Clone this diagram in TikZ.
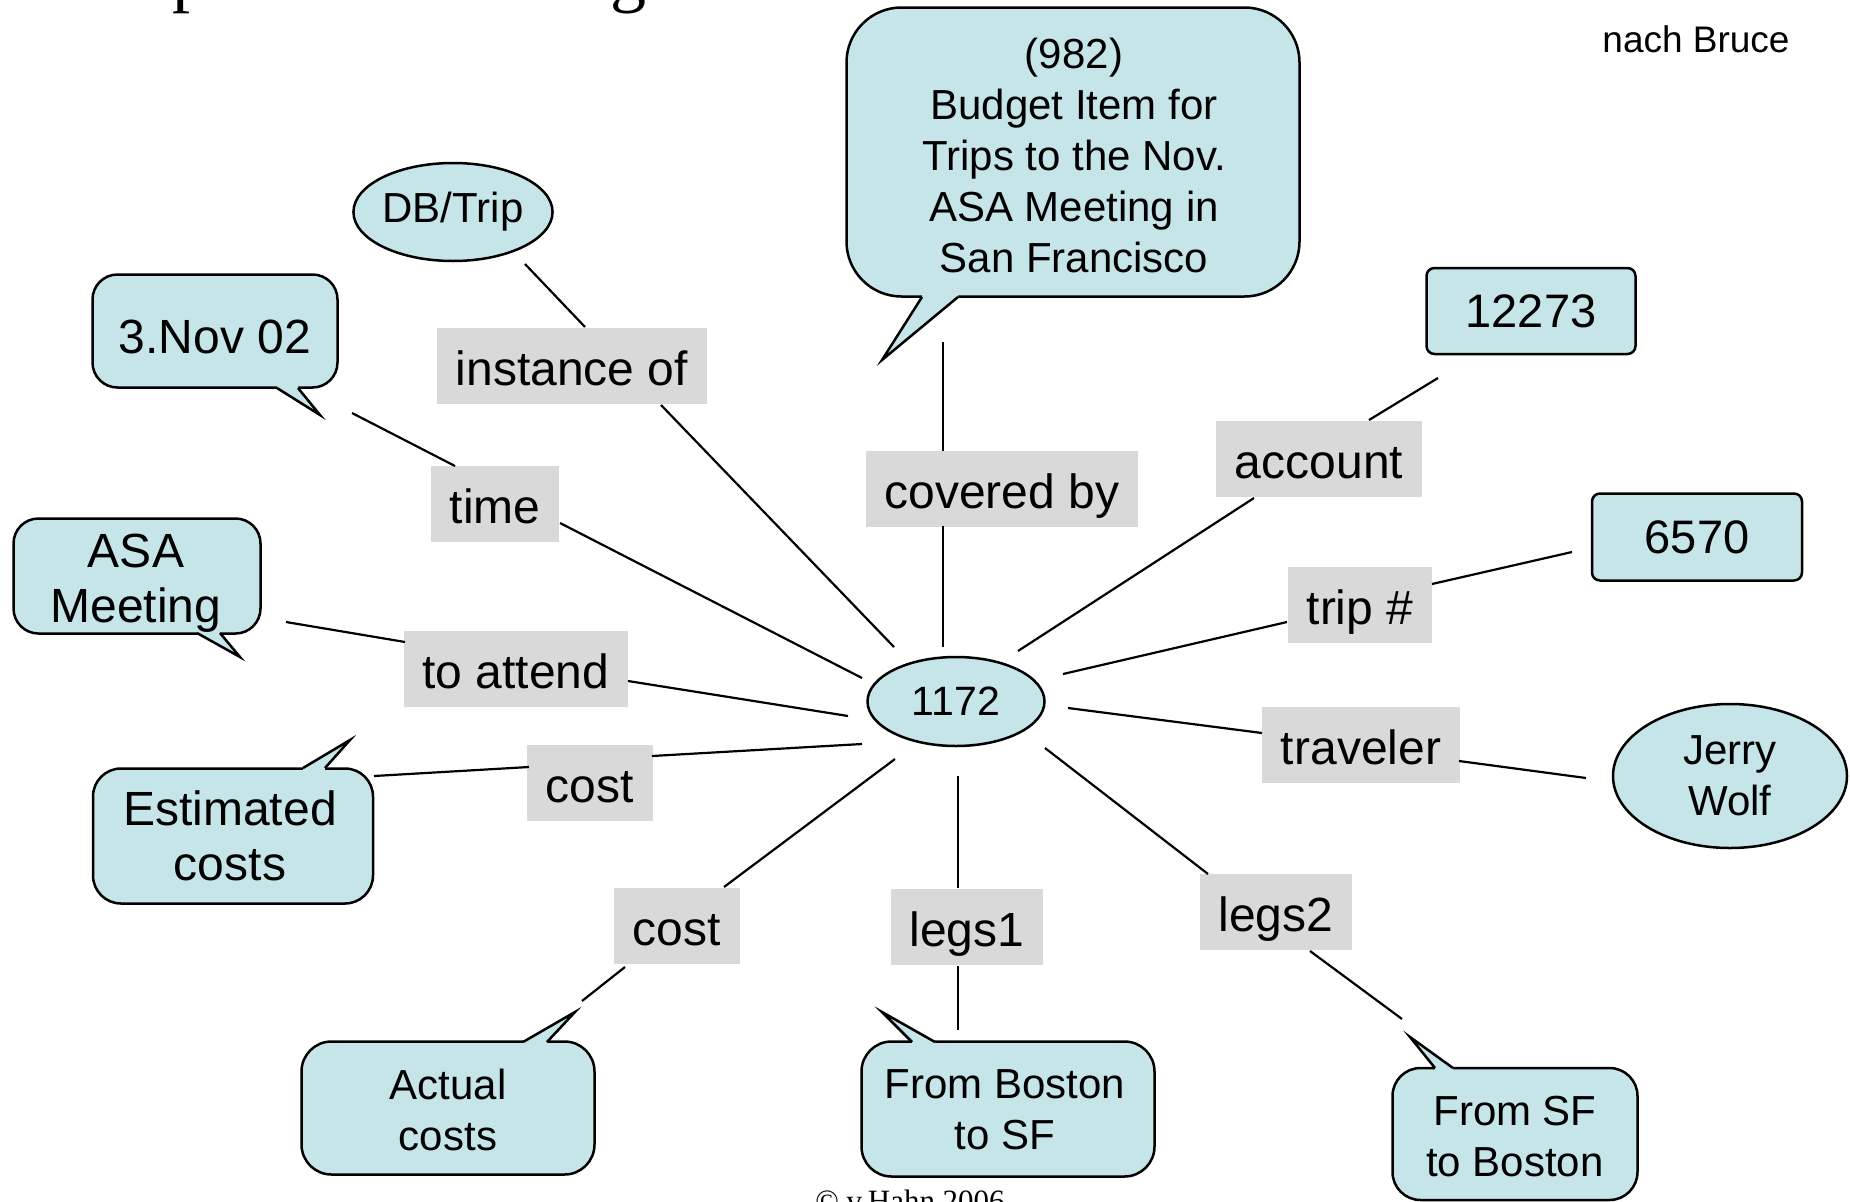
\documentclass[tikz,border=0pt]{standalone}
\usepackage{fontspec}
\setmainfont{Liberation Sans}
\newfontfamily\timesfont{Liberation Serif}
\usetikzlibrary{shapes.geometric}

\definecolor{bubblefill}{RGB}{198,229,232}
\definecolor{relgray}{RGB}{217,217,217}

\tikzset{
  outline/.style={draw=black, line width=2.5pt},
  bubble/.style={outline, fill=bubblefill, rectangle, inner sep=0pt},
  oval/.style={outline, fill=bubblefill, ellipse, inner sep=0pt},
  relbox/.style={fill=relgray, inner xsep=19pt, inner ysep=19pt,
    text height=38pt, text depth=0pt, font=\fontsize{48}{55}\selectfont},
  link/.style={draw=black, line width=2.2pt},
  bigtext/.style={font=\fontsize{48}{55}\selectfont, align=center, inner sep=0pt},
  midtext/.style={font=\fontsize{42}{51}\selectfont, align=center, inner sep=0pt},
}

\begin{document}
\begin{tikzpicture}[x=1pt,y=-1pt]
\useasboundingbox (0,0) rectangle (1850,1202);
\clip (0,0) rectangle (1850,1202);

% heading, only its descenders reach into the frame
\node[anchor=base west, inner sep=0pt, font=\timesfont\fontsize{72}{72}\selectfont] (headp) at (172,-2) {p};
\node[anchor=base west, inner sep=0pt, font=\timesfont\fontsize{72}{72}\selectfont] (headg) at (610,-2) {g};

\node[font=\fontsize{37}{40}\selectfont, inner sep=0pt] (source) at (1696,39) {nach Bruce};

% central concept
\node[oval, minimum width=177pt, minimum height=89pt, font=\fontsize{41}{48}\selectfont] (trip) at (956,701.5) {1172};

% plain concept nodes
\node[oval, minimum width=196pt, minimum height=98pt, midtext] (dbtrip) at (453,212) {DB/Trip};
\node[oval, minimum width=234pt, minimum height=144pt, midtext] (jerry) at (1730,776) {Jerry\\Wolf};
\node[bubble, rounded corners=8pt, minimum width=209pt, minimum height=86pt, font=\fontsize{47}{54}\selectfont] (acctno) at (1531,311) {12273};
\node[bubble, rounded corners=8pt, minimum width=210pt, minimum height=87pt, font=\fontsize{47}{54}\selectfont] (tripnum) at (1697,537) {6570};

% speech bubbles: body, tail, then text
\node[bubble, rounded corners=55pt, minimum width=453pt, minimum height=289pt] (budget) at (1073,152) {};
\fill[bubblefill] (922,297) -- (882,360) -- (958,297) -- ++(0,-6) -- (922,291) -- cycle;
\draw[outline] (922,297) -- (882,360) -- (958,297);
\node[midtext] (budgettxt) at (1074,155) {(982)\\Budget Item for\\Trips to the Nov.\\ASA Meeting in\\San Francisco};

\node[bubble, rounded corners=25pt, minimum width=245pt, minimum height=113pt] (date) at (215,331) {};
\fill[bubblefill] (277,388) -- (320,415) -- (298,388) -- ++(0,-6) -- (277,382) -- cycle;
\draw[outline] (277,388) -- (320,415) -- (298,388);
\node[bigtext] (datetxt) at (215,337) {3.Nov 02};

\node[bubble, rounded corners=25pt, minimum width=247pt, minimum height=115pt] (asa) at (137,576) {};
\fill[bubblefill] (197,633) -- (240,657) -- (220,633) -- ++(0,-6) -- (197,627) -- cycle;
\draw[outline] (197,633) -- (240,657) -- (220,633);
\node[bigtext] (asatxt) at (136,583) {ASA\\Meeting};

\node[bubble, rounded corners=28pt, minimum width=280pt, minimum height=135pt] (est) at (233,836) {};
\fill[bubblefill] (303,768) -- (350,740) -- (325,768) -- ++(0,6) -- (303,774) -- cycle;
\draw[outline] (303,768) -- (350,740) -- (325,768);
\node[bigtext] (esttxt) at (230,836) {Estimated\\costs};

\node[bubble, rounded corners=30pt, minimum width=293pt, minimum height=133pt] (actual) at (448,1108) {};
\fill[bubblefill] (523,1042) -- (575,1012) -- (547,1042) -- ++(0,6) -- (523,1048) -- cycle;
\draw[outline] (523,1042) -- (575,1012) -- (547,1042);
\node[midtext] (actualtxt) at (448,1110) {Actual\\costs};

\node[bubble, rounded corners=30pt, minimum width=293pt, minimum height=135pt] (legone) at (1008,1109) {};
\fill[bubblefill] (912,1042) -- (882,1012) -- (935,1042) -- ++(0,6) -- (912,1048) -- cycle;
\draw[outline] (912,1042) -- (882,1012) -- (935,1042);
\node[midtext] (legonetxt) at (1005,1110) {From Boston\\to SF};

\node[bubble, rounded corners=28pt, minimum width=245pt, minimum height=132pt] (legtwo) at (1515,1134) {};
\fill[bubblefill] (1435,1068) -- (1410,1037) -- (1453,1068) -- ++(0,6) -- (1435,1074) -- cycle;
\draw[outline] (1435,1068) -- (1410,1037) -- (1453,1068);
\node[midtext] (legtwotxt) at (1515,1137) {From SF\\to Boston};

% relation labels
\node[relbox] (inst)   at (572,366)  {instance of};
\node[relbox] (time)   at (495,504)  {time};
\node[relbox] (attend) at (516,669)  {to attend};
\node[relbox] (costa)  at (590,783)  {cost};
\node[relbox] (costb)  at (677,926)  {cost};
\node[relbox] (legsa)  at (967,927)  {legs1};
\node[relbox] (legsb)  at (1276,912) {legs2};
\node[relbox] (trav)   at (1361,745) {traveler};
\node[relbox] (tripno) at (1360,605) {trip \#};
\node[relbox] (acct)   at (1319,459) {account};
\node[relbox] (covby)  at (1002,489) {covered by};

% end points of the relation arcs
\coordinate (inst-o) at (525,264);  \coordinate (inst-i) at (585,327);
\coordinate (inst-j) at (661,405);  \coordinate (inst-c) at (894,647);
\coordinate (time-o) at (352,413);  \coordinate (time-i) at (455,466);
\coordinate (time-j) at (560,523);  \coordinate (time-c) at (862,678);
\coordinate (att-o) at (286,622);   \coordinate (att-i) at (405,642);
\coordinate (att-j) at (628,681);   \coordinate (att-c) at (848,716);
\coordinate (costa-o) at (374,776); \coordinate (costa-i) at (529,767);
\coordinate (costa-j) at (652,756); \coordinate (costa-c) at (862,744);
\coordinate (costb-o) at (582,1001);\coordinate (costb-i) at (625,967);
\coordinate (costb-j) at (724,887); \coordinate (costb-c) at (895,759);
\coordinate (legsa-c) at (958,776); \coordinate (legsa-i) at (958,888);
\coordinate (legsa-j) at (958,966); \coordinate (legsa-o) at (958,1030);
\coordinate (legsb-c) at (1045,748);\coordinate (legsb-i) at (1208,874);
\coordinate (legsb-j) at (1310,951);\coordinate (legsb-o) at (1402,1019);
\coordinate (trav-c) at (1068,708); \coordinate (trav-i) at (1262,733);
\coordinate (trav-j) at (1459,761); \coordinate (trav-o) at (1586,778);
\coordinate (tno-c) at (1063,674);  \coordinate (tno-i) at (1287,622);
\coordinate (tno-j) at (1432,584);  \coordinate (tno-o) at (1572,552);
\coordinate (acct-c) at (1018,651); \coordinate (acct-i) at (1254,498);
\coordinate (acct-j) at (1369,420); \coordinate (acct-o) at (1438,378);
\coordinate (cov-o) at (943,342);   \coordinate (cov-i) at (943,451);
\coordinate (cov-j) at (943,526);   \coordinate (cov-c) at (943,647);

\draw[link] (inst-o) -- (inst-i);   \draw[link] (inst-j) -- (inst-c);
\draw[link] (time-o) -- (time-i);   \draw[link] (time-j) -- (time-c);
\draw[link] (att-o) -- (att-i);     \draw[link] (att-j) -- (att-c);
\draw[link] (costa-o) -- (costa-i); \draw[link] (costa-j) -- (costa-c);
\draw[link] (costb-o) -- (costb-i); \draw[link] (costb-j) -- (costb-c);
\draw[link] (legsa-c) -- (legsa-i); \draw[link] (legsa-j) -- (legsa-o);
\draw[link] (legsb-c) -- (legsb-i); \draw[link] (legsb-j) -- (legsb-o);
\draw[link] (trav-c) -- (trav-i);   \draw[link] (trav-j) -- (trav-o);
\draw[link] (tno-c) -- (tno-i);     \draw[link] (tno-j) -- (tno-o);
\draw[link] (acct-c) -- (acct-i);   \draw[link] (acct-j) -- (acct-o);
\draw[link] (cov-o) -- (cov-i);     \draw[link] (cov-j) -- (cov-c);

% footer, cut by the lower edge
\node[anchor=base, inner sep=0pt, font=\timesfont\fontsize{31}{31}\selectfont] (footer) at (910,1211) {\textcopyright{} v.Hahn 2006};
\end{tikzpicture}
\end{document}
